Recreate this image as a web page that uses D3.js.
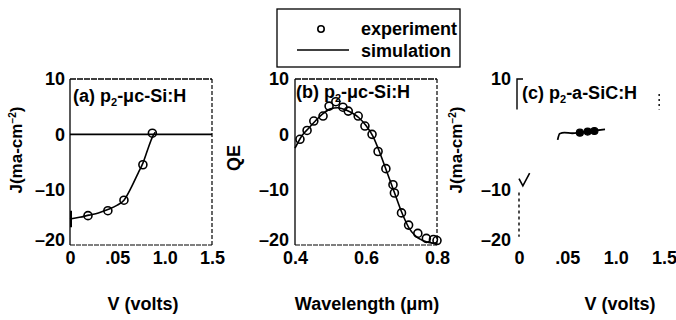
<!DOCTYPE html>
<html>
<head>
<meta charset="utf-8">
<script src="https://cdn.jsdelivr.net/npm/d3@7"></script>
<style>
  body { margin: 0; background: #fff; }
  text { font-family: "Liberation Sans", Arial, sans-serif; font-weight: bold; fill: #000; }
</style>
</head>
<body>
<div id="chart"></div>
<script>
// tick values / labels
const yTicks = [10, 0, -10, -20];
const yTickLabels = ["10", "0", "\u201310", "\u201320"];
const yTicksC = [10, -10, -20];
const yTickLabelsC = ["10", "\u201310", "\u201320"];
const vTicks = [0, 0.5, 1.0, 1.5];
const vTickLabels = ["0", ".05", "1.0", "1.5"];
const wlTicks = [0.4, 0.6, 0.8];
const wlTickLabels = ["0.4", "0.6", "0.8"];

// panel (a): J-V of p2-uc-Si:H
const aExpV = [0.19, 0.40, 0.57, 0.77, 0.87];
const aExpJ = [-14.7, -13.8, -11.9, -5.5, 0.2];
const aSimV = [0, 0.1, 0.2, 0.3, 0.4, 0.5, 0.57, 0.65, 0.72, 0.77, 0.82, 0.87, 0.9];
const aSimJ = [-15.3, -15.0, -14.6, -14.2, -13.6, -12.8, -11.9, -9.5, -7.0, -5.2, -2.8, -0.5, 0.4];
// short vertical stroke where the simulated curve starts
const aStartV = [0, 0];
const aStartJ = [-13.8, -16.8];

// panel (b): QE vs wavelength
const bExpL = [0.414, 0.434, 0.453, 0.479, 0.496, 0.515, 0.535, 0.55, 0.578, 0.597, 0.617, 0.634, 0.656, 0.676, 0.68, 0.70, 0.72, 0.746, 0.77, 0.79, 0.80];
const bExpQ = [-0.9, 0.7, 2.4, 3.3, 5.1, 5.9, 4.9, 4.2, 3.3, 1.5, 0, -3.1, -6.2, -9.1, -10.6, -14.2, -16.4, -17.9, -18.8, -19.0, -19.2];
const bSimL = [0.40, 0.42, 0.44, 0.46, 0.48, 0.50, 0.52, 0.54, 0.56, 0.58, 0.60, 0.62, 0.64, 0.66, 0.68, 0.70, 0.72, 0.74, 0.76, 0.78, 0.80];
const bSimQ = [-2.5, -0.2, 1.2, 2.6, 3.8, 4.6, 4.8, 4.5, 3.9, 3.0, 1.6, -0.4, -3.5, -7.0, -10.5, -14.0, -16.8, -18.4, -19.2, -19.6, -19.7];

// panel (c): J-V of p2-a-SiC:H (mostly lost in the scan)
const cExpV = [0.63, 0.71, 0.78];
const cExpJ = [0.3, 0.5, 0.6];
const cSimV = [0.40, 0.42, 0.47, 0.55, 0.65, 0.75, 0.89];
const cSimJ = [-1.0, 0.1, 0.3, 0.2, 0.4, 0.6, 0.9];
const cTickV = [0, 0.04, 0.11];
const cTickJ = [-8.0, -9.3, -7.0];

const width = 676, height = 320;
const FS = "18px";
const svg = d3.select("#chart").append("svg")
  .attr("width", width).attr("height", height);

const y = d3.scaleLinear().domain([-20, 10]).range([245, 79]);
const xa = d3.scaleLinear().domain([0, 1.5]).range([70, 212]);
const xb = d3.scaleLinear().domain([0.4, 0.8]).range([295, 437]);
const xc = d3.scaleLinear().domain([0, 1.5]).range([519, 664]);

const line = (x) => d3.line().x(d => x(d[0])).y(d => y(d[1])).curve(d3.curveMonotoneX);
const zip = (a, b) => a.map((v, i) => [v, b[i]]);

function yAxis(x0, ticks, labels) {
  const g = svg.append("g").attr("transform", "translate(" + x0 + ",0)")
    .call(d3.axisLeft(y).tickValues(ticks).tickSize(0).tickPadding(4)
      .tickFormat((d, i) => labels[i]));
  g.select(".domain").remove();
  g.selectAll("text").style("font-size", FS).style("font-family", null);
  g.selectAll(".tick").filter(d => d === -20).select("text").attr("dy", "0.05em");
  return g;
}
function xAxis(x, ticks, labels) {
  const g = svg.append("g").attr("transform", "translate(0,248)")
    .call(d3.axisBottom(x).tickValues(ticks).tickSize(0).tickPadding(3)
      .tickFormat((d, i) => labels[i]));
  g.select(".domain").remove();
  g.selectAll("text").style("font-size", FS).style("font-family", null);
  return g;
}
function box(x, x0, x1) {
  svg.append("line").attr("x1", x(x0)).attr("x2", x(x0)).attr("y1", y(10)).attr("y2", y(-20))
    .attr("stroke", "#000").attr("stroke-width", 1.3);
  svg.append("line").attr("x1", x(x0)).attr("x2", x(x1)).attr("y1", y(10)).attr("y2", y(10))
    .attr("stroke", "#000").attr("stroke-width", 1.3).attr("stroke-dasharray", "6,1");
  svg.append("line").attr("x1", x(x1)).attr("x2", x(x1)).attr("y1", y(10)).attr("y2", y(-20))
    .attr("stroke", "#000").attr("stroke-width", 1.2).attr("stroke-dasharray", "4,2");
  svg.append("line").attr("x1", x(x0)).attr("x2", x(x1)).attr("y1", y(-20)).attr("y2", y(-20))
    .attr("stroke", "#000").attr("stroke-width", 1.2).attr("stroke-dasharray", "5,1");
}
function title(x0, y0, pre, post) {
  const t = svg.append("text").attr("x", x0).attr("y", y0).style("font-size", FS);
  t.append("tspan").text(pre);
  t.append("tspan").attr("dy", 4).style("font-size", "11px").text("2");
  t.append("tspan").attr("dy", -4).text(post);
}
function yLabel(cx, cy) {
  const t = svg.append("text").attr("transform", "translate(" + cx + "," + cy + ") rotate(-90)")
    .attr("text-anchor", "middle").style("font-size", "17px");
  t.append("tspan").text("J(ma-cm");
  t.append("tspan").attr("dy", -6).style("font-size", "10px").text("\u22122");
  t.append("tspan").attr("dy", 6).text(")");
}
function circles(x, xs, ys) {
  svg.append("g").selectAll("circle").data(zip(xs, ys)).enter().append("circle")
    .attr("cx", d => x(d[0])).attr("cy", d => y(d[1])).attr("r", 4)
    .attr("fill", "none").attr("stroke", "#000").attr("stroke-width", 1.6);
}
function curve(x, xs, ys, w) {
  svg.append("path").attr("d", line(x)(zip(xs, ys)))
    .attr("fill", "none").attr("stroke", "#000").attr("stroke-width", w || 1.6);
}

// ---- panel (a)
box(xa, 0, 1.5);
svg.append("line").attr("x1", xa(0)).attr("x2", xa(1.5)).attr("y1", y(0)).attr("y2", y(0))
  .attr("stroke", "#000").attr("stroke-width", 1.6);
curve(xa, aSimV, aSimJ);
svg.append("path").attr("d", d3.line().x(d => xa(d[0]) + 1).y(d => y(d[1]))(zip(aStartV, aStartJ)))
  .attr("fill", "none").attr("stroke", "#000").attr("stroke-width", 2);
circles(xa, aExpV, aExpJ);
yAxis(xa(0) - 1, yTicks, yTickLabels);
xAxis(xa, vTicks, vTickLabels);
title(73, 102, "(a) p", "-\u03bcc-Si:H");
yLabel(22, 150);
svg.append("text").attr("x", 143).attr("y", 310).attr("text-anchor", "middle")
  .style("font-size", FS).text("V  (volts)");

// ---- panel (b)
box(xb, 0.4, 0.8);
curve(xb, bSimL, bSimQ);
circles(xb, bExpL, bExpQ);
yAxis(xb(0.4) - 2, yTicks, yTickLabels);
xAxis(xb, wlTicks, wlTickLabels);
title(296, 98, "(b) p", "-\u03bcc-Si:H");
svg.append("text").attr("transform", "translate(240,158) rotate(-90)")
  .attr("text-anchor", "middle").style("font-size", FS).text("QE");
svg.append("text").attr("x", 367).attr("y", 310).attr("text-anchor", "middle")
  .style("font-size", FS).text("Wavelength (\u03bcm)");

// ---- panel (c)
svg.append("path")
  .attr("d", "M" + (xc(0) + 4) + "," + y(10) + "H" + (xc(0) - 2) + "V" + y(4.5))
  .attr("fill", "none").attr("stroke", "#000").attr("stroke-width", 1.4);
svg.append("line").attr("x1", xc(0)).attr("x2", xc(0)).attr("y1", y(-10.5)).attr("y2", y(-18.5))
  .attr("stroke", "#000").attr("stroke-width", 1.4).attr("stroke-dasharray", "3,3");
svg.append("line").attr("x1", xc(1.45)).attr("x2", xc(1.45)).attr("y1", y(7.3)).attr("y2", y(4.5))
  .attr("stroke", "#000").attr("stroke-width", 1.4).attr("stroke-dasharray", "2,3");
curve(xc, cSimV, cSimJ, 1.8);
svg.append("path").attr("d", d3.line().x(d => xc(d[0])).y(d => y(d[1]))(zip(cTickV, cTickJ)))
  .attr("fill", "none").attr("stroke", "#000").attr("stroke-width", 1.6);
svg.append("g").selectAll("circle").data(zip(cExpV, cExpJ)).enter().append("circle")
  .attr("cx", d => xc(d[0])).attr("cy", d => y(d[1])).attr("r", 3.5)
  .attr("fill", "#000").attr("stroke", "#000").attr("stroke-width", 1.2);
yAxis(xc(0) - 4, yTicksC, yTickLabelsC);
xAxis(xc, vTicks, vTickLabels);
title(522, 99, "(c) p", "-a-SiC:H");
yLabel(462, 150);
svg.append("text").attr("x", 620).attr("y", 310).attr("text-anchor", "middle")
  .style("font-size", FS).text("V (volts)");

// ---- legend
svg.append("rect").attr("x", 277).attr("y", 9).attr("width", 183).attr("height", 58)
  .attr("fill", "none").attr("stroke", "#000").attr("stroke-width", 1.3);
svg.append("circle").attr("cx", 321).attr("cy", 29).attr("r", 3.2)
  .attr("fill", "none").attr("stroke", "#000").attr("stroke-width", 1.6);
svg.append("line").attr("x1", 297).attr("x2", 349).attr("y1", 50).attr("y2", 50)
  .attr("stroke", "#000").attr("stroke-width", 1.6);
svg.append("text").attr("x", 361).attr("y", 35).style("font-size", FS).text("experiment");
svg.append("text").attr("x", 361).attr("y", 57).style("font-size", FS).text("simulation");
</script>
</body>
</html>
